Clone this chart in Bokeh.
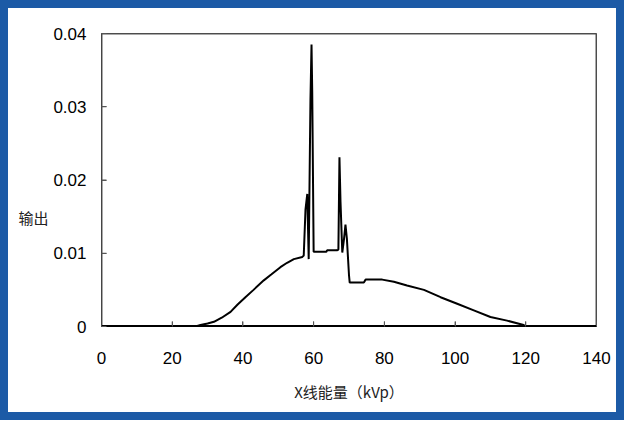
from bokeh.plotting import figure
from bokeh.models import Range1d, FixedTicker, NumeralTickFormatter, ColumnDataSource
from bokeh.embed import file_html
from bokeh.resources import INLINE

# X-ray energy (kVp) and output values
kvp = [0, 26.6, 28, 30, 31.8, 34, 36.5, 38.5, 40.7, 43, 45.9, 48, 50.6, 52.5, 54.4,
       56.8, 57.2, 57.7, 58.2, 58.6, 59.1, 59.4, 59.6, 60.0, 63.6, 63.8, 66.6, 67.0,
       67.3, 67.6, 68.1, 68.6, 69.0, 69.4, 70.0, 70.2, 74.2, 74.7, 79.4, 82.7, 86.4,
       91.2, 95.9, 100.6, 105.3, 110, 114.7, 119.4, 120.2, 140]
output = [0, 0, 0.0002, 0.0004, 0.00064, 0.0012, 0.002, 0.003, 0.004, 0.005, 0.0063,
          0.0071, 0.0081, 0.0087, 0.0092, 0.0095, 0.0097, 0.016, 0.0181, 0.0092, 0.031,
          0.0385, 0.032, 0.0102, 0.0102, 0.0104, 0.0104, 0.0105, 0.0231, 0.017, 0.0101,
          0.012, 0.0139, 0.012, 0.007, 0.006, 0.006, 0.0064, 0.0064, 0.0061, 0.0056,
          0.005, 0.004, 0.0031, 0.0022, 0.0013, 0.0008, 0.0002, 0, 0]

x_ticks = [0, 20, 40, 60, 80, 100, 120, 140]
y_ticks = [0, 0.01, 0.02, 0.03, 0.04]
x_title = "X线能量（kVp）"
y_title = "输出"

x0, x1 = x_ticks[0], x_ticks[-1]
y0, y1 = y_ticks[0], y_ticks[-1]

p = figure(width=624, height=420, output_backend="svg", toolbar_location=None,
           x_range=Range1d(x0, x1), y_range=Range1d(y0, y1),
           min_border_left=93, min_border_right=36, min_border_top=25,
           min_border_bottom=102)
p.background_fill_color = "white"
p.border_fill_color = "white"
p.outline_line_color = "#444444"
p.outline_line_width = 1
p.grid.visible = False
p.styles = {"border": "8px solid #1c5aa6"}

# one renderer: plot-box edges, inward ticks, then the spectrum curve
tick_dy = (y1 - y0) * 5 / 293
tick_dx = (x1 - x0) * 5 / 495
xs, ys, colors, widths = [], [], [], []
for ex, ey, c, w in [([x0, x0], [y0, y1], "#555555", 2),
                     ([x1, x1], [y0, y1], "#555555", 2),
                     ([x0, x1], [y1, y1], "#555555", 2),
                     ([x0, x1], [y0, y0], "black", 3)]:
    xs.append(ex); ys.append(ey); colors.append(c); widths.append(w)
for t in x_ticks:
    xs.append([t, t]); ys.append([y0, y0 + tick_dy]); colors.append("#555555"); widths.append(1)
for t in y_ticks:
    xs.append([x0, x0 + tick_dx]); ys.append([t, t]); colors.append("#555555"); widths.append(1)
xs.append(kvp); ys.append(output); colors.append("black"); widths.append(2)

src = ColumnDataSource(dict(xs=xs, ys=ys, color=colors, width=widths))
p.multi_line("xs", "ys", source=src, line_color="color", line_width="width")

for ax in (p.xaxis[0], p.yaxis[0]):
    ax.major_tick_in = 5
    ax.major_tick_out = 0
    ax.minor_tick_line_color = None
    ax.major_tick_line_color = "#555555"
    ax.major_label_text_font = "Liberation Sans"
    ax.major_label_text_font_size = "17px"
    ax.major_label_text_color = "black"
    ax.axis_label_text_font = "Noto Sans CJK SC"
    ax.axis_label_text_font_size = "15px"
    ax.axis_label_text_font_style = "normal"
    ax.axis_label_text_color = "#222222"

p.xaxis.ticker = FixedTicker(ticks=x_ticks)
p.yaxis.ticker = FixedTicker(ticks=y_ticks)
p.yaxis.formatter = NumeralTickFormatter(format="0.[00]")
p.xaxis.axis_line_color = "black"
p.yaxis.axis_line_color = "#444444"
p.xaxis.major_label_standoff = 25
p.yaxis.major_label_standoff = 15
p.xaxis.axis_label = x_title
p.xaxis.axis_label_standoff = 14
p.yaxis.axis_label = "\n\n\n" + y_title
p.yaxis.axis_label_orientation = "horizontal"
p.yaxis.axis_label_standoff = 2

open("out.html", "w").write(file_html(p, INLINE))
